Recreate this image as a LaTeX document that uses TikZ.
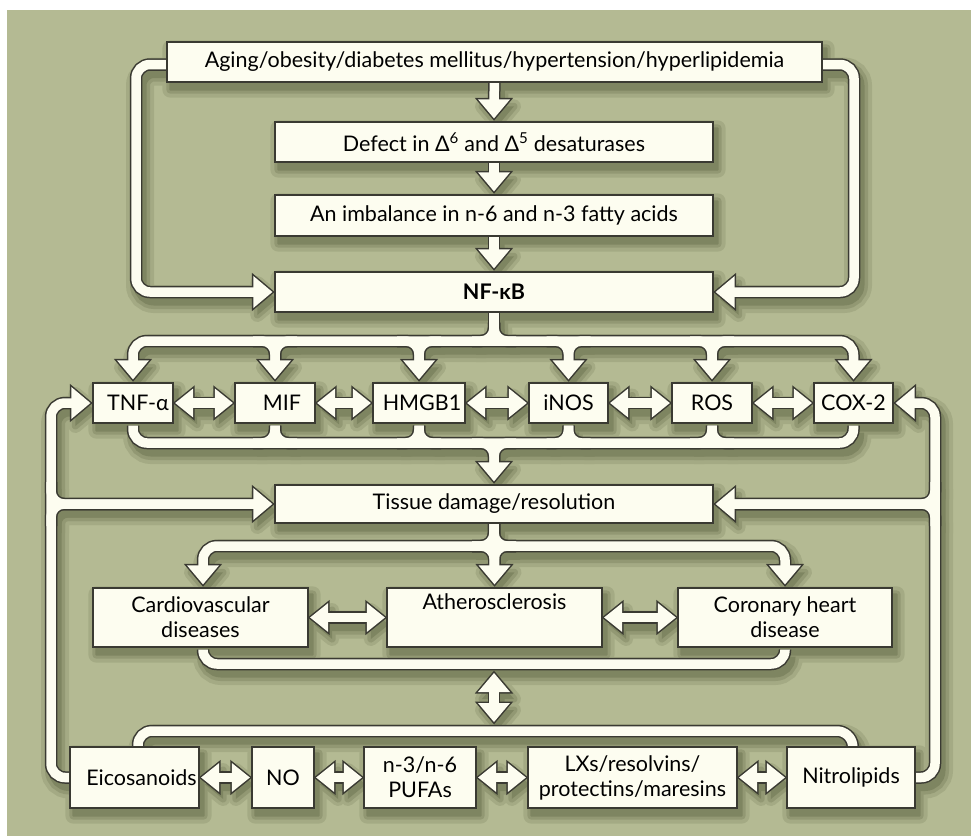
\documentclass[tikz,border=0pt]{standalone}
\usepackage{fontspec}
\setmainfont{Lato}
\usetikzlibrary{calc}
\definecolor{bggreen}{HTML}{B4BA93}
\definecolor{cream}{HTML}{FDFDF0}
\definecolor{dark}{HTML}{3A3A32}
\definecolor{shad}{HTML}{3A4222}
\pgfdeclarelayer{bgl}\pgfdeclarelayer{shl}\pgfdeclarelayer{oll}\pgfdeclarelayer{fll}
\pgfsetlayers{bgl,shl,oll,fll,main}
% arrow heads (tip given), y axis points down
\newcommand\hR[1]{(#1) -- ++(-19,-16) -- ++(0,32) -- cycle}
\newcommand\hL[1]{(#1) -- ++(19,-16) -- ++(0,32) -- cycle}
\newcommand\hD[1]{(#1) -- ++(-16,-19) -- ++(32,0) -- cycle}
\newcommand\hU[1]{(#1) -- ++(-16,19) -- ++(32,0) -- cycle}
\newcommand\dR[1]{(#1) -- ++(-18,-14.5) -- ++(0,29) -- cycle}
\newcommand\dL[1]{(#1) -- ++(18,-14.5) -- ++(0,29) -- cycle}
\newcommand\mkbox[6]{\node[box, minimum width={#4-#2}, minimum height={#5-#3}] (#1) at ({(#2+#4)/2},{(#3+#5)/2}) {#6};}
% T-junction fillets
\newcommand\tee[3]{%
  \draw[#1,rounded corners=13] ($(#2)+(-22,0)$) -- (#2) -- (#3);
  \draw[#1,rounded corners=13] ($(#2)+(22,0)$) -- (#2) -- (#3);}
\newcommand\teev[3]{%
  \draw[#1,rounded corners=13] ($(#2)+(0,-22)$) -- (#2) -- (#3);
  \draw[#1,rounded corners=13] ($(#2)+(0,22)$) -- (#2) -- (#3);}
\newcommand\dbl[4]{% style, headstyle, left node, right node
  \draw[#1] ($(#3.east)+(15,0)$) -- ($(#4.west)+(-15,0)$);
  \path[#2] \dL{$(#3.east)+(1.5,0)$};
  \path[#2] \dR{$(#4.west)+(-1.5,0)$};}
\newcommand\Net[2]{%
  % column of the top
  \draw[#1] ($(top.south)+(0,-2)$) -- ($(def.north)+(0,-20)$);
  \path[#2] \hD{$(def.north)+(0,-3)$};
  \draw[#1] ($(def.south)+(0,-2)$) -- ($(imb.north)+(0,-20)$);
  \path[#2] \hD{$(imb.north)+(0,-3)$};
  \draw[#1] ($(imb.south)+(0,-2)$) -- ($(nfkb.north)+(0,-20)$);
  \path[#2] \hD{$(nfkb.north)+(0,-3)$};
  % side loops to NF-kB
  \draw[#1,rounded corners=14] ($(top.west)+(2,2.5)$) -| (xLL |- nfkb.west) -- ($(nfkb.west)+(-17,0)$);
  \path[#2] \hR{$(nfkb.west)+(-2,0)$};
  \draw[#1,rounded corners=14] ($(top.east)+(-2,2.5)$) -| (xRR |- nfkb.east) -- ($(nfkb.east)+(17,0)$);
  \path[#2] \hL{$(nfkb.east)+(2,0)$};
  % distribution to the six mediators
  \draw[#1] ($(nfkb.south)+(0,-2)$) -- (nfkb.south |- yD);
  \tee{#1}{nfkb.south |- yD}{$(nfkb.south)+(0,10)$}
  \draw[#1,rounded corners=14] ($(tnf.north)+(0,-20)$) |- (cox.north |- yD) -- ($(cox.north)+(0,-20)$);
  \foreach \n in {mif,hmg,inos,ros}{\tee{#1}{\n.north |- yD}{$(\n.north)+(0,-20)$}}
  \foreach \n in {tnf,mif,hmg,inos,ros,cox}{\path[#2] \hD{$(\n.north)+(0,-3)$};}
  % collector to tissue
  \draw[#1,rounded corners=14] ($(tnf.south)+(0,2)$) |- (cox.south |- yC) -- ($(cox.south)+(0,2)$);
  \foreach \n in {mif,hmg,inos,ros}{\tee{#1}{\n.south |- yC}{$(\n.south)+(0,2)$}}
  \tee{#1}{tis.north |- yC}{$(tis.north)+(0,-20)$}
  \path[#2] \hD{$(tis.north)+(0,-3)$};
  % outer left loop
  \draw[#1,rounded corners=14] ($(tnf.west)+(-17,0)$) -| (xL |- eic.west) -- ($(eic.west)+(2,0)$);
  \teev{#1}{xL |- tis.west}{$(tis.west)+(-17,0)$}
  \path[#2] \hR{$(tnf.west)+(-2,0)$};
  \path[#2] \hR{$(tis.west)+(-2,0)$};
  % outer right loop
  \draw[#1,rounded corners=14] ($(cox.east)+(17,0)$) -| (xR |- nit.east) -- ($(nit.east)+(-2,0)$);
  \teev{#1}{xR |- tis.east}{$(tis.east)+(17,0)$}
  \path[#2] \hL{$(cox.east)+(2,0)$};
  \path[#2] \hL{$(tis.east)+(2,0)$};
  % split to diseases
  \draw[#1] ($(tis.south)+(0,-2)$) -- ($(ath.north)+(0,-20)$);
  \draw[#1,rounded corners=14] ($(cvd.north)+(2.5,-20)$) |- (chd.north |- yS) -- ($(chd.north)+(0,-20)$);
  \tee{#1}{tis.south |- yS}{$(ath.north)+(0,-20)$}
  \tee{#1}{tis.south |- yS}{$(tis.south)+(0,-2)$}
  \path[#2] \hD{$(cvd.north)+(2.5,-3)$};
  \path[#2] \hD{$(ath.north)+(0,-3)$};
  \path[#2] \hD{$(chd.north)+(0,-3)$};
  % collector of diseases
  \draw[#1,rounded corners=14] ($(cvd.south)+(2.5,2)$) |- (chd.south |- yC2) -- ($(chd.south)+(0,2)$);
  % vertical double arrow
  \draw[#1] ($(vu)+(0,16)$) -- ($(vd)+(0,-16)$);
  \path[#2] \hU{vu};
  \path[#2] \hD{vd};
  % bottom distribution
  \draw[#1,rounded corners=14] ($(eic.north)+(3.5,2)$) |- (nit.north |- yB) -- ($(nit.north)+(2,2)$);
  % horizontal double arrows
  \dbl{#1}{#2}{tnf}{mif}\dbl{#1}{#2}{mif}{hmg}\dbl{#1}{#2}{hmg}{inos}
  \dbl{#1}{#2}{inos}{ros}\dbl{#1}{#2}{ros}{cox}
  \dbl{#1}{#2}{cvd}{ath}\dbl{#1}{#2}{ath}{chd}
  \dbl{#1}{#2}{eic}{no}\dbl{#1}{#2}{no}{pufa}\dbl{#1}{#2}{pufa}{lxs}\dbl{#1}{#2}{lxs}{nit}
}
\newcommand\ShBoxes[1]{%
  \foreach \b in {top,def,imb,nfkb,tnf,mif,hmg,inos,ros,cox,tis,cvd,ath,chd,eic,no,pufa,lxs,nit}{
    \fill[shad, rounded corners=#1] ($(\b.north west)+(-#1,-#1)$) rectangle ($(\b.south east)+(#1,#1)$);}}
\begin{document}
\begin{tikzpicture}[x=1pt,y=-1pt,
  font=\fontsize{21.5}{25}\selectfont,
  box/.style={draw=dark, fill=cream, line width=1.3pt, inner sep=0pt, align=center},
  outpipe/.style={draw=dark, line width=12.5pt},
  fillpipe/.style={draw=cream, line width=9.5pt},
  outhead/.style={fill=dark, draw=dark, line width=3pt, line join=miter},
  fillhead/.style={fill=cream},
  shpipeA/.style={draw=shad, line width=28pt},
  shpipeB/.style={draw=shad, line width=20pt},
  shpipeC/.style={draw=shad, line width=13pt},
  shheadA/.style={fill=shad, draw=shad, line width=14pt, line join=round},
  shheadB/.style={fill=shad, draw=shad, line width=7pt, line join=round},
  shheadC/.style={fill=shad}]
\useasboundingbox (0,0) rectangle (971,836);
\begin{pgfonlayer}{bgl}
  \fill[white] (0,0) rectangle (971,836);
  \fill[bggreen] (7,10) rectangle (971,836);
\end{pgfonlayer}
% boxes
\mkbox{top}{167}{42}{822}{82}{Aging/obesity/diabetes mellitus/hypertension/hyperlipidemia}
\mkbox{def}{275}{122}{713}{162}{Defect in Δ\textsuperscript{6} and Δ\textsuperscript{5} desaturases}
\mkbox{imb}{275}{195}{713}{236}{An imbalance in n-6 and n-3 fatty acids}
\mkbox{nfkb}{275}{272}{713}{312}{\bfseries NF-κB}
\mkbox{tnf}{93}{383}{173}{423}{\hspace*{10pt}TNF-α}
\mkbox{mif}{235}{383}{315}{423}{\hspace*{14pt}MIF}
\mkbox{hmg}{373}{383}{465}{423}{\hspace*{6pt}HMGB1}
\mkbox{inos}{529}{383}{608}{423}{iNOS}
\mkbox{ros}{672}{383}{752}{423}{ROS}
\mkbox{cox}{814}{383}{893}{423}{COX-2}
\mkbox{tis}{275}{485}{713}{523}{Tissue damage/resolution}
\mkbox{cvd}{93}{588}{308}{647}{Cardiovascular\\diseases}
\mkbox{ath}{387}{588}{602}{647}{Atherosclerosis\\\strut}
\mkbox{chd}{678}{588}{892}{647}{Coronary heart\\disease}
\mkbox{eic}{70}{747}{199}{808}{\hspace*{14pt}Eicosanoids}
\mkbox{no}{252}{747}{314}{808}{NO}
\mkbox{pufa}{364}{747}{476}{808}{n-3/n-6\\PUFAs}
\mkbox{lxs}{528}{747}{737}{808}{LXs/resolvins/\\protectins/maresins}
\mkbox{nit}{787}{747}{915}{808}{Nitrolipids}
% guide coordinates
\coordinate (xLL) at (136,0);
\coordinate (xRR) at (854,0);
\coordinate (yD) at (0,341);
\coordinate (yC) at (0,443);
\coordinate (xL) at (51,0);
\coordinate (xR) at (935,0);
\coordinate (yS) at (0,546);
\coordinate (yC2) at (0,664);
\coordinate (yB) at (0,731);
\coordinate (vu) at (494,673);
\coordinate (vd) at (494,722);
% shadows
\begin{pgfonlayer}{shl}
  \begin{scope}[transform canvas={shift={(4pt,-7pt)}}]
    \begin{scope}[transparency group, opacity=0.13]
      \Net{shpipeA}{shheadA}\ShBoxes{8}
    \end{scope}
    \begin{scope}[transparency group, opacity=0.17]
      \Net{shpipeB}{shheadB}\ShBoxes{4}
    \end{scope}
    \begin{scope}[transparency group, opacity=0.22]
      \Net{shpipeC}{shheadC}\ShBoxes{1}
    \end{scope}
  \end{scope}
\end{pgfonlayer}
\begin{pgfonlayer}{oll}
  \Net{outpipe}{outhead}
\end{pgfonlayer}
\begin{pgfonlayer}{fll}
  \Net{fillpipe}{fillhead}
\end{pgfonlayer}
\end{tikzpicture}
\end{document}
